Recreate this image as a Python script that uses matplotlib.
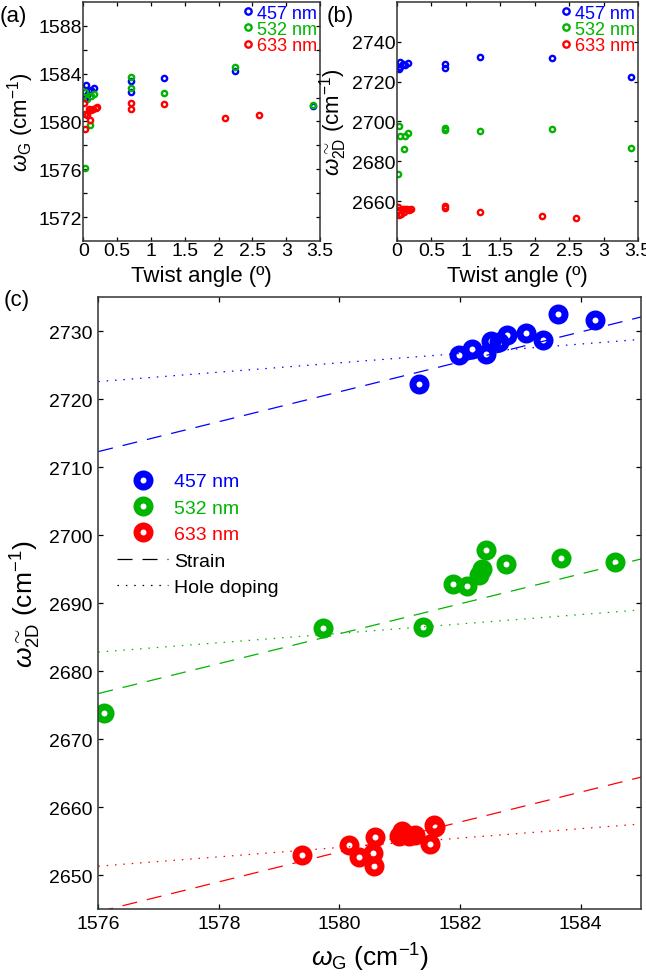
import matplotlib
matplotlib.use('Agg')
import matplotlib.pyplot as plt
from matplotlib.lines import Line2D
from matplotlib.ticker import FixedLocator
import numpy as np

plt.rcParams['font.family'] = ['Liberation Sans', 'DejaVu Sans']
plt.rcParams['mathtext.fontset'] = 'custom'
plt.rcParams['mathtext.rm'] = 'Liberation Sans'
plt.rcParams['mathtext.it'] = 'Liberation Sans:italic'

lasers = ['457 nm', '532 nm', '633 nm']
colors = ['#0000ff', '#00b400', '#ff0000']

# twist angle (deg), G peak and 2D peak positions (cm-1) for each laser
angle_457 = [3.40, 0.70, 0.70, 1.20, 2.25, 0.03, 0.05, 0.08, 0.12, 0.16, 0.04]
wG_457 = [1581.32, 1582.43, 1583.38, 1583.62, 1584.24, 1581.98, 1582.19, 1582.52, 1582.65, 1582.78, 1583.09]
w2D_457 = [2722.2, 2726.6, 2728.75, 2732.5, 2731.65, 2726.5, 2727.4, 2728.6, 2728.4, 2729.4, 2729.7]

angle_532 = [0.02, 0.10, 3.40, 0.70, 0.70, 1.20, 2.25, 0.05, 0.12, 0.16, 0.03]
wG_532 = [1576.09, 1579.73, 1581.38, 1583.68, 1582.76, 1582.37, 1584.57, 1581.89, 1582.11, 1582.32, 1582.43]
w2D_532 = [2673.8, 2686.4, 2686.45, 2696.6, 2695.8, 2695.0, 2696.0, 2692.84, 2692.49, 2694.2, 2697.8]

angle_633 = [0.03, 0.70, 0.70, 1.20, 2.10, 2.60, 0.10, 0.02, 0.06, 0.12, 0.15, 0.18, 0.20, 0.01, 0.08]
wG_633 = [1579.37, 1581.56, 1581.04, 1581.50, 1580.33, 1580.57, 1580.16, 1580.59, 1580.55, 1580.98, 1581.08, 1581.15, 1581.25, 1581.58, 1581.02]
w2D_633 = [2652.94, 2657.3, 2656.5, 2654.56, 2652.7, 2651.36, 2654.4, 2655.55, 2653.3, 2655.8, 2656.0, 2655.7, 2655.9, 2657.0, 2655.9]

angles = [angle_457, angle_532, angle_633]
wGs = [wG_457, wG_532, wG_633]
w2Ds = [w2D_457, w2D_532, w2D_633]

# guide lines in (c): slope and value at wG = 1576
strain_slope = 2.2
doping_slope = 0.69
strain_at_1576 = [2712.3, 2676.7, 2644.6]
doping_at_1576 = [2722.6, 2682.8, 2651.3]

fig = plt.figure(figsize=(6.46, 9.78), dpi=100)
ax_a = fig.add_axes([0.129, 0.7526, 0.3664, 0.2444])
ax_b = fig.add_axes([0.6146, 0.7526, 0.373, 0.2444])
ax_c = fig.add_axes([0.1522, 0.0695, 0.840, 0.6255])

angle_label = 'Twist angle (\u00ba)'
wG_label = r'$\omega_{\mathrm{G}}$ (cm$^{-1}$)'
w2D_label = r'$\omega^{\sim}_{\mathrm{2D}}$ (cm$^{-1}$)'


def style(ax, pad, length):
    ax.tick_params(which='both', direction='in', top=True, right=True,
                   length=length, width=0.9, labelsize=14, pad=pad, colors='black')
    for s in ax.spines.values():
        s.set_linewidth(1.1)
        s.set_color('#333333')


# (a)
for a, g, c, lab in zip(angles, wGs, colors, lasers):
    ax_a.plot(a, g, 'o', ms=3.8, mew=1.7, mfc='none', mec=c, label=lab, ls='none')
ax_a.set_xlim(0, 3.5)
ax_a.set_ylim(1570, 1590)
ax_a.set_xticks([0, 0.5, 1, 1.5, 2, 2.5, 3, 3.5])
ax_a.set_xticklabels(['0', '0.5', '1', '1.5', '2', '2.5', '3', '3.5'])
ax_a.set_yticks([1572, 1576, 1580, 1584, 1588])
ax_a.yaxis.set_minor_locator(FixedLocator([1574, 1578, 1582, 1586]))
style(ax_a, 1, 3)
ax_a.set_xlabel(angle_label, fontsize=16, labelpad=4)
ax_a.set_ylabel(wG_label, fontsize=16, labelpad=2)
ax_a.legend(loc='upper right', frameon=False, fontsize=13, handlelength=0.5,
            handletextpad=0.25, labelspacing=-0.05, borderpad=0.1,
            borderaxespad=0.05, labelcolor='markeredgecolor', markerscale=1.2)

# (b)
for a, w, c, lab in zip(angles, w2Ds, colors, lasers):
    ax_b.plot(a, w, 'o', ms=3.8, mew=1.7, mfc='none', mec=c, label=lab, ls='none')
ax_b.set_xlim(0, 3.5)
ax_b.set_ylim(2640, 2760)
ax_b.set_xticks([0, 0.5, 1, 1.5, 2, 2.5, 3, 3.5])
ax_b.set_xticklabels(['0', '0.5', '1', '1.5', '2', '2.5', '3', '3.5'])
ax_b.set_yticks([2660, 2680, 2700, 2720, 2740])
style(ax_b, 1, 3)
ax_b.set_xlabel(angle_label, fontsize=16, labelpad=4)
ax_b.set_ylabel(w2D_label, fontsize=16, labelpad=2)
ax_b.legend(loc='upper right', frameon=False, fontsize=13, handlelength=0.5,
            handletextpad=0.25, labelspacing=-0.05, borderpad=0.1,
            borderaxespad=0.05, labelcolor='markeredgecolor', markerscale=1.2)

# (c)
xfit = np.array([1576.0, 1585.0])
handles = []
for g, w, c, lab, bs, bd in zip(wGs, w2Ds, colors, lasers, strain_at_1576, doping_at_1576):
    ax_c.plot(xfit, bs + strain_slope * (xfit - 1576), color=c, lw=0.9, dashes=(12, 8))
    ax_c.plot(xfit, bd + doping_slope * (xfit - 1576), color=c, lw=0.9, dashes=(1.2, 5.5))
    h, = ax_c.plot(g, w, 'o', ms=9.4, mew=5, mfc='none', mec=c, ls='none', label=lab)
    handles.append(h)
handles.append(Line2D([], [], color='black', lw=0.9, dashes=(12, 8), label='Strain'))
handles.append(Line2D([], [], color='black', lw=0.9, dashes=(1.2, 5.5), label='Hole doping'))
ax_c.set_xlim(1576, 1585)
ax_c.set_ylim(2645, 2735)
ax_c.set_xticks([1576, 1578, 1580, 1582, 1584])
ax_c.set_yticks(range(2650, 2731, 10))
style(ax_c, 4.5, 3.6)
ax_c.set_xlabel(wG_label, fontsize=19, labelpad=6)
ax_c.set_ylabel(w2D_label, fontsize=19, labelpad=4)
leg_c = ax_c.legend(handles=handles, loc='upper left', bbox_to_anchor=(0.035, 0.713),
                    frameon=False, fontsize=14, handlelength=2.6, handletextpad=0.3,
                    labelspacing=0.45, borderpad=0, borderaxespad=0)
for t, c in zip(leg_c.get_texts(), colors + ['black', 'black']):
    t.set_color(c)

fig.text(0.0, 0.983, '(a)', fontsize=16, va='center', ha='left')
fig.text(0.505, 0.983, '(b)', fontsize=16, va='center', ha='left')
fig.text(0.005, 0.693, '(c)', fontsize=16, va='center', ha='left')

fig.savefig('out.png', dpi=100)
